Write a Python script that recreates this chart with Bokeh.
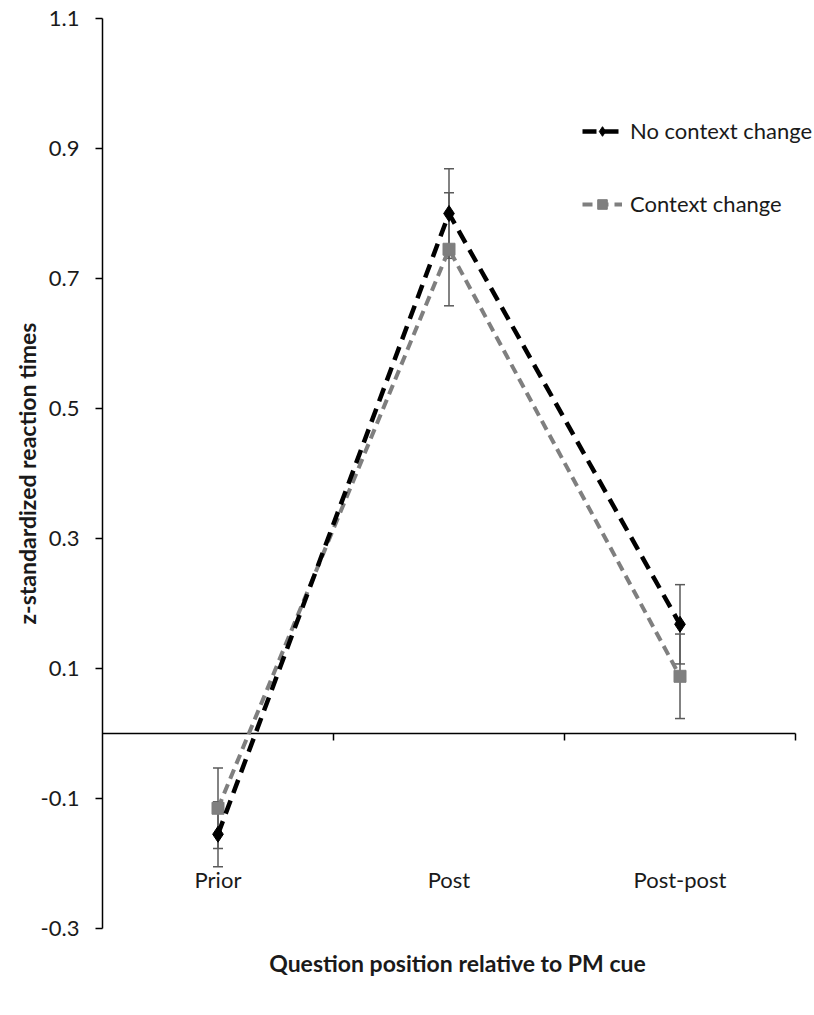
from bokeh.plotting import figure
from bokeh.models import (Range1d, FixedTicker, Whisker, TeeHead, ColumnDataSource,
                          Legend, LegendItem)
from bokeh.core.properties import value
from bokeh.embed import file_html
from bokeh.resources import INLINE

# ---- data ----
categories = ["Prior", "Post", "Post-post"]
no_change = [-0.155, 0.800, 0.168]
no_change_err = [0.050, 0.069, 0.061]
change = [-0.115, 0.745, 0.088]
change_err = [0.062, 0.087, 0.065]
y_ticks = [-0.3, -0.1, 0.1, 0.3, 0.5, 0.7, 0.9, 1.1]
y_tick_labels = ["-0.3", "-0.1", "0.1", "0.3", "0.5", "0.7", "0.9", "1.1"]
series_names = ["No context change", "Context change"]
x_title = "Question position relative to PM cue"
y_title = "z-standardized reaction times"

FONT = "Lato"
TXT = "#1a1a1a"

W, H = 812, 1012
# plotting area: category part is 693 px wide, frame extends 17 px further for the legend
cat_w, extra_w, frame_h = 693, 17, 910
dx = len(categories) / cat_w
dy = (y_ticks[-1] - y_ticks[0]) / frame_h

p = figure(width=W, height=H, output_backend="svg", toolbar_location=None,
           x_range=Range1d(0, len(categories) + extra_w * dx),
           y_range=Range1d(y_ticks[0], y_ticks[-1]),
           min_border_left=102, min_border_right=0, min_border_top=18, min_border_bottom=84)
p.outline_line_color = None
p.xgrid.visible = False
p.ygrid.visible = False

xs = [i + 0.5 for i in range(len(categories))]

# y axis
yax = p.yaxis[0]
yax.ticker = FixedTicker(ticks=y_ticks)
yax.major_label_overrides = {t: l for t, l in zip(y_ticks, y_tick_labels)}
yax.minor_tick_line_color = None
yax.major_tick_in = 0
yax.major_tick_out = 7
yax.major_tick_line_color = "black"
yax.major_tick_line_width = 1.5
yax.axis_line_color = "black"
yax.axis_line_width = 1.5
yax.major_label_standoff = 16
yax.major_label_text_font = FONT
yax.major_label_text_font_size = "22px"
yax.major_label_text_color = TXT
yax.axis_label = y_title
yax.axis_label_text_font = FONT
yax.axis_label_text_font_size = "23px"
yax.axis_label_text_font_style = "bold"
yax.axis_label_text_color = TXT
yax.axis_label_standoff = -3

# x axis used only for its title
xax = p.xaxis[0]
xax.ticker = FixedTicker(ticks=[])
xax.axis_line_color = None
xax.major_tick_line_color = None
xax.minor_tick_line_color = None
xax.major_tick_out = 0
xax.major_tick_in = 0
xax.major_label_standoff = 0
xax.axis_label = x_title
xax.axis_label_text_font = FONT
xax.axis_label_text_font_size = "23px"
xax.axis_label_text_font_style = "bold"
xax.axis_label_text_color = TXT
xax.axis_label_standoff = 20

# horizontal axis line at zero with category-boundary ticks
n = len(categories)
p.segment(x0=[0], y0=[0], x1=[n], y1=[0], line_color="black", line_width=1.5)
bounds = list(range(1, n + 1))
p.segment(x0=bounds, y0=[0] * n, x1=bounds, y1=[-7 * dy] * n,
          line_color="black", line_width=1.5)

# category labels (Excel "low" position)
p.text(x=xs, y=[-0.2246] * n, text=categories, text_font=value(FONT),
       text_font_size="22px", text_color=TXT, text_align="center", text_baseline="middle")

# series: context change (gray) first, then no context change (black)
g_line = p.line(xs, change, line_color="#7f7f7f", line_width=4, line_dash="10 6")
g_mark = p.scatter(xs, change, marker="square", size=12, fill_color="#7f7f7f",
                   line_color="#7f7f7f")
b_line = p.line(xs, no_change, line_color="black", line_width=4.5, line_dash="14 8")
b_mark = p.scatter(xs, no_change, marker="diamond", size=16, fill_color="black",
                   line_color="black")

# error bars
for vals, errs in ((change, change_err), (no_change, no_change_err)):
    src = ColumnDataSource(dict(x=xs, lo=[v - e for v, e in zip(vals, errs)],
                                hi=[v + e for v, e in zip(vals, errs)]))
    p.add_layout(Whisker(source=src, base="x", lower="lo", upper="hi",
                         line_color="#5a5a5a", line_width=1.5,
                         upper_head=TeeHead(size=10, line_color="#5a5a5a", line_width=1.5),
                         lower_head=TeeHead(size=10, line_color="#5a5a5a", line_width=1.5)))

legend = Legend(items=[LegendItem(label=series_names[0], renderers=[b_line, b_mark]),
                       LegendItem(label=series_names[1], renderers=[g_line, g_mark])],
                location=(480, 711), orientation="vertical",
                glyph_width=40, glyph_height=24, label_height=24, label_standoff=8,
                spacing=46, padding=0, margin=0,
                border_line_color=None, background_fill_alpha=0,
                label_text_font=FONT, label_text_font_size="22px", label_text_color=TXT)
p.add_layout(legend)

open("out.html", "w").write(file_html(p, INLINE))
